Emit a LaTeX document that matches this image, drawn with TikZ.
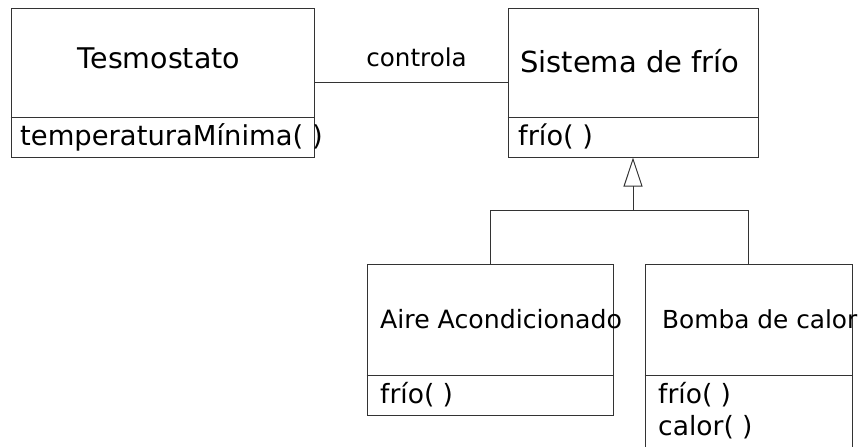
\documentclass[tikz,border=0pt]{standalone}
\usepackage{fontspec}
\setmainfont{DejaVu Sans}
\usetikzlibrary{arrows.meta}

\begin{document}
\begin{tikzpicture}[x=1pt,y=-1pt]
	% styles
	\tikzstyle{umlclass} = [draw=black!80,line width=1pt,inner sep=0pt,rectangle]
	\tikzstyle{umlline} = [draw=black!80,line width=1pt]
	\tikzstyle{umltext} = [inner sep=0pt,anchor=base west]

	% bounding box
	\useasboundingbox (0,0) rectangle (862,447);

	% classes
	\node[umlclass,minimum width=303pt,minimum height=149pt] (tes) at (162.5,82.5) {};
	\node[umlclass,minimum width=250pt,minimum height=149pt] (sis) at (633,82.5) {};
	\node[umlclass,minimum width=246pt,minimum height=151pt] (aire) at (490,339.5) {};
	\node[umlclass,minimum width=207pt,minimum height=206pt] (bomba) at (748.5,367) {};

	% compartments
	\draw[umlline] (tes.west |- 0,117) -- (tes.east |- 0,117);
	\draw[umlline] (sis.west |- 0,117) -- (sis.east |- 0,117);
	\draw[umlline] (aire.west |- 0,375) -- (aire.east |- 0,375);
	\draw[umlline] (bomba.west |- 0,375) -- (bomba.east |- 0,375);

	% names and operations
	\node[umltext,anchor=base,font=\fontsize{28.5}{34}\selectfont] (tesname) at (159,68) {Tesmostato};
	\node[umltext,font=\fontsize{27.4}{33}\selectfont] (tesop) at (20,145) {temperaturaMínima( )};
	\node[umltext,font=\fontsize{29}{35}\selectfont] (sisname) at (520,72.5) {Sistema de frío};
	\node[umltext,font=\fontsize{27.2}{33}\selectfont] (sisop) at (518,145) {frío( )};
	\node[umltext,font=\fontsize{25.2}{30}\selectfont] (airename) at (380,328) {Aire Acondicionado};
	\node[umltext,font=\fontsize{26.5}{32}\selectfont] (aireop) at (380,403) {frío( )};
	\node[umltext,font=\fontsize{24.8}{30}\selectfont] (bombaname) at (662,328) {Bomba de calor};
	\node[umltext,font=\fontsize{26.5}{32}\selectfont] (bombaop) at (658,403) {frío( )};
	\node[umltext,font=\fontsize{26.5}{32}\selectfont] (bombaop2) at (658,435) {calor( )};

	% association
	\draw[umlline] (tes.east) -- (sis.west);
	\node[umltext,anchor=base,font=\fontsize{24.6}{30}\selectfont] (ctl) at (416.5,66.7) {controla};

	% generalization
	\coordinate (fork) at (633,210.7);
	\draw[umlline] (aire.north) |- (fork) -| (bomba.north);
	\draw[umlline,-{Triangle[open,length=29pt,width=19pt]}] (fork) -- (sis.south);
\end{tikzpicture}
\end{document}
